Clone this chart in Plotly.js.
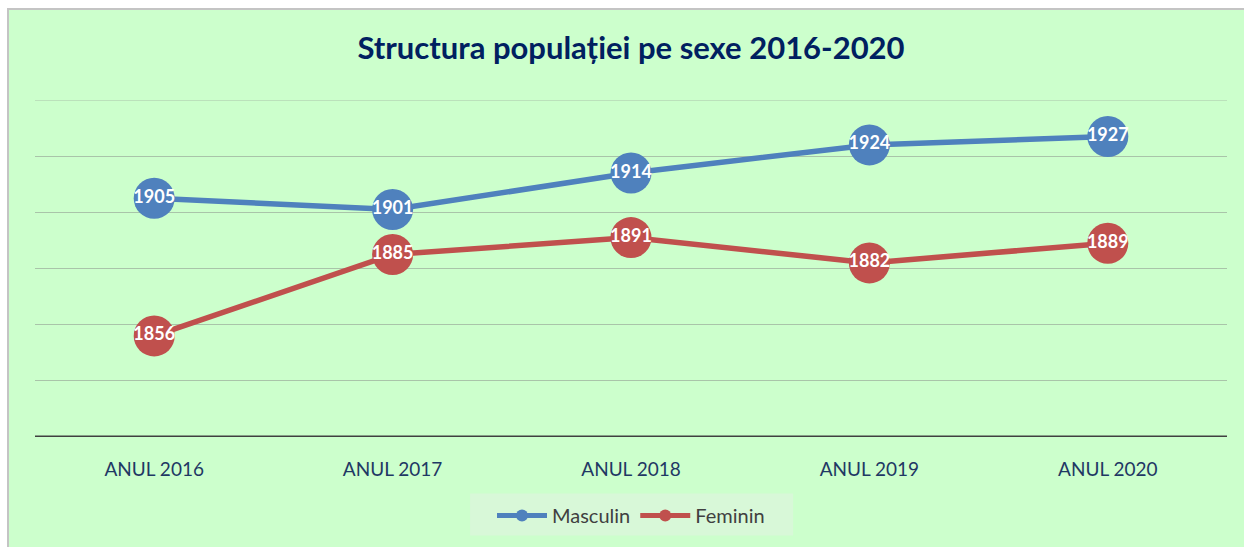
<!DOCTYPE html>
<html>
<head>
<meta charset="utf-8">
<script src="https://cdn.plot.ly/plotly-3.0.1.min.js"></script>
<style>
html,body{margin:0;padding:0;background:#ffffff;width:1244px;height:547px;overflow:hidden;}
#frame{position:absolute;left:7px;top:8px;width:1240px;height:545px;background:#ccffcc;border-left:2px solid #c4c4c4;border-top:2px solid #c4c4c4;}
#chart{position:absolute;left:0;top:0;width:1244px;height:547px;}
</style>
</head>
<body>
<div id="frame"></div>
<div id="chart"></div>
<script>
const categories = ["ANUL 2016", "ANUL 2017", "ANUL 2018", "ANUL 2019", "ANUL 2020"];
const masculin = [1905, 1901, 1914, 1924, 1927];
const feminin = [1856, 1885, 1891, 1882, 1889];
const seriesNames = ["Masculin", "Feminin"];

const fam = "Lato, 'Open Sans', sans-serif";
const labelFont = {family: fam, size: 18, color: "#ffffff", weight: "bold"};

const traces = [
  {
    x: categories, y: masculin, name: seriesNames[0],
    type: "scatter", mode: "lines+markers+text",
    line: {color: "#4f81bd", width: 5.5},
    marker: {color: "#4f81bd", size: 41},
    text: masculin.map(String), textposition: "middle center",
    textfont: labelFont, cliponaxis: false, hoverinfo: "x+y"
  },
  {
    x: categories, y: feminin, name: seriesNames[1],
    type: "scatter", mode: "lines+markers+text",
    line: {color: "#c0504d", width: 5.5},
    marker: {color: "#c0504d", size: 41},
    text: feminin.map(String), textposition: "middle center",
    textfont: labelFont, cliponaxis: false, hoverinfo: "x+y"
  }
];

const layout = {
  width: 1244, height: 547,
  margin: {l: 35, r: 17, t: 100, b: 108},
  paper_bgcolor: "rgba(0,0,0,0)",
  plot_bgcolor: "rgba(0,0,0,0)",
  title: {
    text: "<b>Structura populației pe sexe 2016-2020</b>",
    font: {family: fam, size: 31, color: "#002060"},
    x: 0.5, xanchor: "center", xref: "paper",
    y: 0.912, yanchor: "middle", yref: "container"
  },
  xaxis: {
    type: "category", range: [-0.5, 4.5],
    showgrid: false, zeroline: false,
    showline: false, ticks: "",
    tickfont: {family: fam, size: 19, color: "#1f3864"},
    ticklabelstandoff: 19,
    fixedrange: true
  },
  yaxis: {
    range: [1820, 1940], dtick: 20, tick0: 1820,
    showticklabels: false, ticks: "",
    showgrid: true, gridcolor: "#a9c4a9", gridwidth: 1,
    zeroline: false, showline: false, fixedrange: true
  },
  shapes: [
    {type: "rect", xref: "paper", yref: "paper", x0: 0.365, x1: 0.636, y0: -0.292, y1: -0.168,
     fillcolor: "#d8f8d8", line: {width: 0}, layer: "below"},
    {type: "line", xref: "paper", yref: "y", x0: 0, x1: 1, y0: 1940, y1: 1940,
     line: {color: "#a9c4a9", width: 1}, layer: "below"},
    {type: "line", xref: "paper", yref: "y", x0: 0, x1: 1, y0: 1820, y1: 1820,
     line: {color: "#404040", width: 3}}
  ],
  legend: {
    orientation: "h", x: 0.5, xanchor: "center", y: -0.175, yanchor: "top",
    bgcolor: "rgba(0,0,0,0)",
    font: {family: fam, size: 20, color: "#404040"},
    itemwidth: 50, itemsizing: "constant"
  },
  showlegend: true
};

Plotly.newPlot("chart", traces, layout, {displayModeBar: false, staticPlot: true});
</script>
</body>
</html>
